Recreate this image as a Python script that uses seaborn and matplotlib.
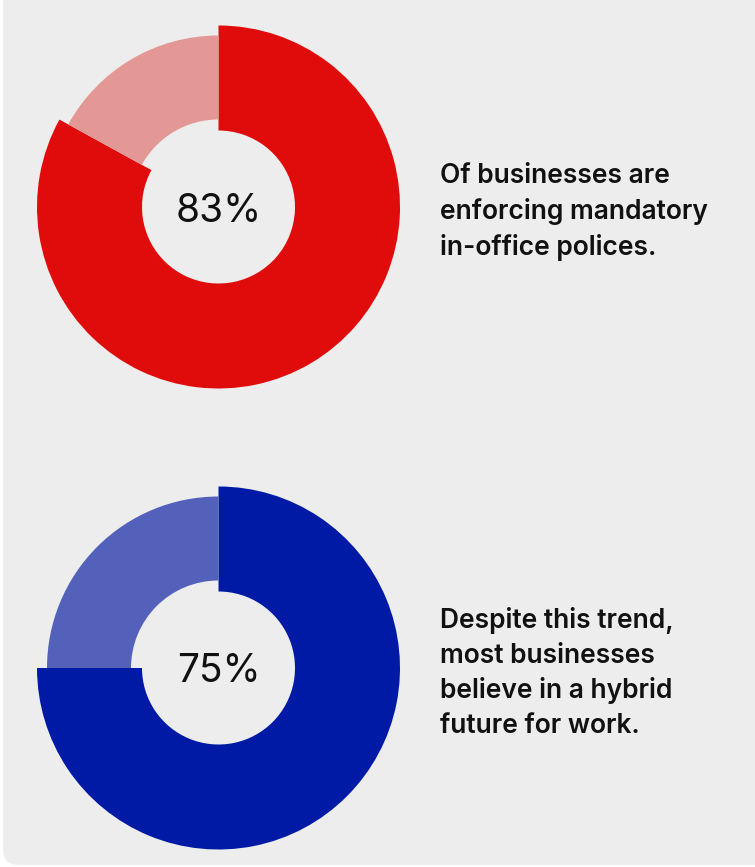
import matplotlib
matplotlib.use("Agg")
import matplotlib.pyplot as plt
from matplotlib.patches import FancyBboxPatch
import seaborn as sns

# Survey shares shown in the two rings
shares = [83, 75]
center_labels = ["83%", "75%"]
captions = [
    "Of businesses are\nenforcing mandatory\nin-office polices.",
    "Despite this trend,\nmost businesses\nbelieve in a hybrid\nfuture for work.",
]
main_colors = ["#E00B0B", "#001AA5"]
rest_colors = ["#E39896", "#5461BA"]

sns.set_theme(style="white")
plt.rcParams["font.family"] = ["Inter", "DejaVu Sans"]

W, H = 755, 867
fig = plt.figure(figsize=(W / 100, H / 100), dpi=100, facecolor="white")
ax = fig.add_axes([0, 0, 1, 1])
ax.set_xlim(0, W)
ax.set_ylim(0, H)
ax.set_aspect("equal")
ax.axis("off")

# rounded card behind everything
card = FancyBboxPatch((3, 2), W + 20, H + 20,
                      boxstyle="round,pad=0,rounding_size=16",
                      facecolor="#ECEDEC", edgecolor="none", zorder=0)
ax.add_patch(card)

centers_y = [H - 207, H - 668]
caption_y = [H - 212, H - 673]
cx = 218.5
outer_main, width_main = 181.5, 105
outer_rest, width_rest = 171.5, 84

for share, lab, cap, cm, cr, cy, ty in zip(shares, center_labels, captions,
                                           main_colors, rest_colors,
                                           centers_y, caption_y):
    vals = [share, 100 - share]
    ax.pie(vals, colors=[cm, "none"], radius=outer_main, center=(cx, cy),
           startangle=90, counterclock=False, frame=True,
           wedgeprops=dict(width=width_main, linewidth=0))
    ax.pie(vals, colors=["none", cr], radius=outer_rest, center=(cx, cy),
           startangle=90, counterclock=False, frame=True,
           wedgeprops=dict(width=width_rest, linewidth=0))
    ax.text(cx, cy, lab, ha="center", va="center_baseline", fontsize=28,
            fontweight="normal", color="#111111")
    ax.text(440, ty, cap, ha="left", va="center", fontsize=19,
            fontweight="semibold", color="#111111", linespacing=1.42)

ax.set_xlim(0, W)
ax.set_ylim(0, H)
ax.axis("off")
fig.savefig("out.png", dpi=100, facecolor="white")
